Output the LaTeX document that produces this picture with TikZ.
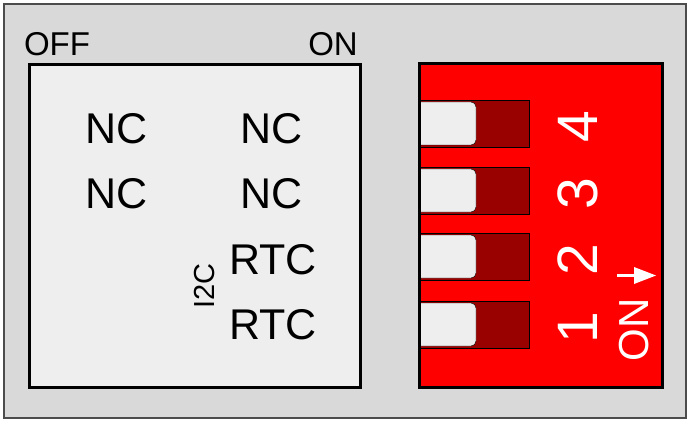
\documentclass[tikz,border=0pt]{standalone}
\usepackage{fontspec}
\setmainfont{Liberation Sans}
\definecolor{casegray}{HTML}{D9D9D9}
\definecolor{panelgray}{HTML}{EEEEEE}
\definecolor{slotred}{HTML}{990000}
\begin{document}
\begin{tikzpicture}[x=1pt, y=-1pt,
  lbl/.style={inner sep=0pt, font=\fontsize{43}{43}\selectfont},
  head/.style={inner sep=0pt, font=\fontsize{33}{33}\selectfont},
  num/.style={inner sep=0pt, text=white, rotate=90, font=\fontsize{57}{57}\selectfont}]
\useasboundingbox (0,0) rectangle (690,422);
\draw[black!70, fill=casegray, line width=1.5pt] (4,4) rectangle (686,418);
% label panel
\draw[line width=3pt, fill=panelgray] (29,65) rectangle (360,387);
\node[head] (off) at (57,44) {OFF};
\node[head] (on) at (333,44) {ON};
\node[lbl] (nc4a) at (117,129) {NC};
\node[lbl] (nc4b) at (272,129) {NC};
\node[lbl] (nc3a) at (117,194) {NC};
\node[lbl] (nc3b) at (272,194) {NC};
\node[lbl] (rtc2) at (273,260) {RTC};
\node[lbl] (rtc1) at (273,325) {RTC};
\node[inner sep=0pt, rotate=90, font=\fontsize{29}{29}\selectfont] (i2c) at (205,286) {I2C};
% dip switch
\fill[red] (419,64) rectangle (662,387);
\foreach \n/\y in {4/100,3/167,2/233,1/301}{
  \draw[fill=slotred] (419,\y) rectangle (529,\y+47);
  \draw[fill=panelgray, rounded corners=5pt] (419,\y+2) -- (476,\y+2) -- (476,\y+45) -- (419,\y+45);
  \node[num] (sw\n) at (578,\y+27) {\n};
}
\draw[line width=3pt] (419,64) rectangle (662,387);
\node[num, font=\fontsize{42}{42}\selectfont] (onsw) at (634,330) {ON};
% arrow towards ON
\coordinate (arrowtail) at (617,275.5);
\coordinate (arrowbase) at (634,275.5);
\coordinate (arrowtip) at (656,275.5);
\draw[white, line width=3.5pt] (arrowtail) -- (arrowbase);
\fill[white] (arrowtip) -- ([yshift=-8.5pt]arrowbase) -- ([yshift=8.5pt]arrowbase) -- cycle;
\end{tikzpicture}
\end{document}
